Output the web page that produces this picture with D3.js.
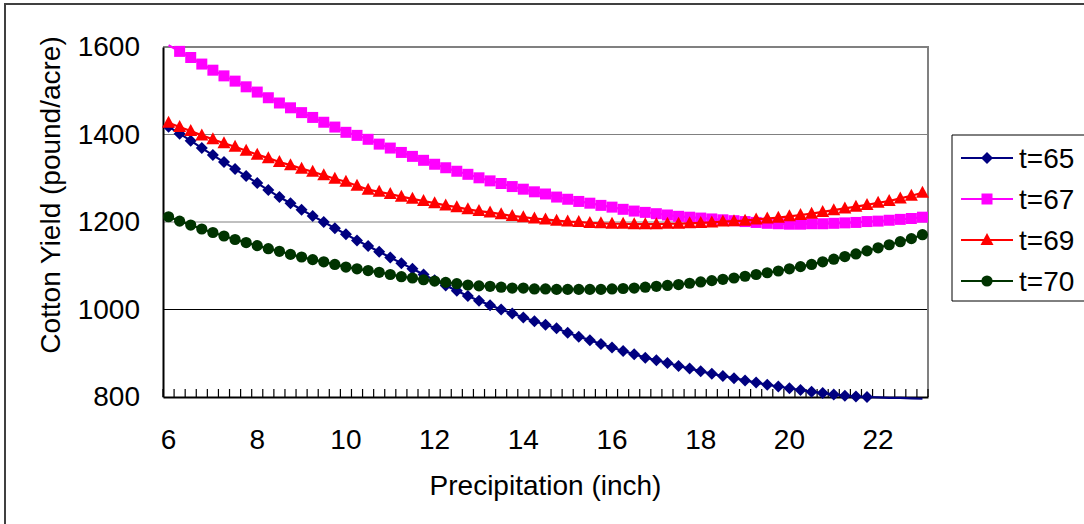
<!DOCTYPE html>
<html>
<head>
<meta charset="utf-8">
<script src="https://cdn.jsdelivr.net/npm/d3@7"></script>
<style>
  body { margin: 0; background: #fff; }
  svg { display: block; font-family: "Liberation Sans", Arial, sans-serif; }
</style>
</head>
<body>
<svg id="chart" width="1084" height="524"></svg>
<script>
// precipitation categories (inch), one every quarter inch
const precipitation = [
  6, 6.25, 6.5, 6.75, 7, 7.25, 7.5, 7.75, 8, 8.25, 8.5, 8.75,
  9, 9.25, 9.5, 9.75, 10, 10.25, 10.5, 10.75, 11, 11.25, 11.5, 11.75,
  12, 12.25, 12.5, 12.75, 13, 13.25, 13.5, 13.75, 14, 14.25, 14.5, 14.75,
  15, 15.25, 15.5, 15.75, 16, 16.25, 16.5, 16.75, 17, 17.25, 17.5, 17.75,
  18, 18.25, 18.5, 18.75, 19, 19.25, 19.5, 19.75, 20, 20.25, 20.5, 20.75,
  21, 21.25, 21.5, 21.75, 22, 22.25, 22.5, 22.75, 23
];
const xTickLabels = [6, 8, 10, 12, 14, 16, 18, 20, 22];
const yTicks = [800, 1000, 1200, 1400, 1600];

// cotton yield (pound/acre)
const t65 = [
  1418, 1402, 1386, 1369, 1353, 1337, 1321, 1305, 1289, 1273, 1257, 1243,
  1228, 1214, 1200, 1186, 1172, 1158, 1145, 1132, 1119, 1106, 1093, 1080,
  1067, 1055, 1043, 1031, 1020, 1010, 1000, 991, 982, 973, 965, 957,
  947, 938, 930, 921, 913, 905, 898, 890, 884, 878, 871, 865,
  859, 853, 848, 843, 838, 833, 828, 824, 820, 816, 812, 809,
  806, 803, 801, 800, 799, 798, 798, 797, 796
];
const t67 = [
  1604, 1590, 1576, 1561, 1547, 1534, 1522, 1509, 1497, 1484, 1472, 1461,
  1450, 1439, 1428, 1417, 1405, 1398, 1389, 1378, 1369, 1359, 1350, 1341,
  1332, 1324, 1316, 1309, 1301, 1294, 1288, 1281, 1275, 1269, 1264, 1257,
  1252, 1247, 1243, 1238, 1234, 1229, 1225, 1222, 1219, 1216, 1213, 1211,
  1209, 1207, 1205, 1203, 1201, 1199, 1197, 1196, 1195, 1195, 1196, 1196,
  1197, 1198, 1199, 1201, 1202, 1204, 1206, 1208, 1211
];
const t69 = [
  1427, 1417, 1408, 1398, 1389, 1380, 1372, 1363, 1354, 1346, 1337, 1330,
  1322, 1315, 1307, 1299, 1292, 1283, 1274, 1269, 1264, 1258, 1253, 1248,
  1243, 1238, 1234, 1229, 1225, 1222, 1218, 1214, 1211, 1208, 1206, 1203,
  1201, 1200, 1198, 1197, 1196, 1196, 1195, 1195, 1195, 1196, 1196, 1197,
  1198, 1199, 1201, 1202, 1203, 1206, 1208, 1210, 1213, 1216, 1219, 1223,
  1227, 1231, 1235, 1239, 1244, 1248, 1254, 1260, 1267
];
const t70 = [
  1212, 1202, 1193, 1184, 1176, 1168, 1160, 1153, 1146, 1139, 1133, 1126,
  1120, 1114, 1109, 1103, 1097, 1093, 1089, 1085, 1080, 1075, 1072, 1068,
  1065, 1062, 1059, 1056, 1054, 1053, 1051, 1049, 1049, 1047, 1047, 1046,
  1046, 1046, 1046, 1046, 1047, 1048, 1049, 1051, 1053, 1055, 1057, 1060,
  1063, 1066, 1069, 1072, 1076, 1080, 1084, 1088, 1093, 1098, 1103, 1109,
  1115, 1121, 1127, 1134, 1141, 1148, 1155, 1162, 1171
];

const seriesNames = ["t=65", "t=67", "t=69", "t=70"];
const seriesValues = [t65, t67, t69, t70];
const seriesColors = ["#000080", "#FF00FF", "#FF0000", "#003300"];
const seriesMarkers = ["diamond", "square", "triangle", "circle"];

const fontFamily = '"Liberation Sans", Arial, sans-serif';
const fontSize = 28;

const svg = d3.select('#chart');
const width = +svg.attr('width');
const height = +svg.attr('height');
const margin = {top: 47, right: 156, bottom: 127, left: 163};
const innerWidth = width - margin.left - margin.right;
const innerHeight = height - margin.top - margin.bottom;

// outer chart frame (runs off the right and bottom edge)
svg.append('path')
  .attr('d', `M${width},4H5V${height}`)
  .attr('fill', 'none')
  .attr('stroke', '#404040')
  .attr('stroke-width', 2);

const g = svg.append('g')
  .attr('transform', `translate(${margin.left},${margin.top})`);

const xScale = d3.scaleBand()
  .domain(precipitation)
  .range([0, innerWidth]);

const yScale = d3.scaleLinear()
  .domain([800, 1600])
  .range([innerHeight, 0]);

// gridlines
g.append('g')
  .selectAll('line')
  .data(yTicks.slice(1, -1))
  .join('line')
    .attr('x1', 0).attr('x2', innerWidth)
    .attr('y1', d => yScale(d)).attr('y2', d => yScale(d))
    .attr('stroke', d => d == 1000 ? '#000' : '#808080')
    .attr('stroke-width', 1);

// plot area top / right border
g.append('path')
  .attr('d', `M0,${yScale(1600)}H${innerWidth}V${yScale(800)}`)
  .attr('fill', 'none')
  .attr('stroke', '#808080')
  .attr('stroke-width', 2);

// y axis
const yAxisG = g.append('g')
  .attr('font-size', fontSize)
  .attr('font-family', fontFamily)
  .call(d3.axisLeft(yScale).tickValues(yTicks).tickFormat(d3.format('d')).tickSize(0).tickPadding(23));
yAxisG.attr('font-size', fontSize).attr('font-family', fontFamily);
yAxisG.select('.domain').attr('stroke', '#000').attr('stroke-width', 2);
yAxisG.selectAll('text').attr('fill', '#000');

// x axis: labels every 2 inches, small tick at every category boundary
const xAxisG = g.append('g')
  .attr('transform', `translate(0,${innerHeight})`)
  .call(d3.axisBottom(xScale).tickValues(xTickLabels).tickSize(0).tickPadding(32));
xAxisG.attr('font-size', fontSize).attr('font-family', fontFamily);
xAxisG.select('.domain').attr('stroke', '#000').attr('stroke-width', 2);
xAxisG.selectAll('text').attr('fill', '#000');

const boundaries = precipitation.map(d => xScale(d)).concat([xScale.range()[1]]);
xAxisG.append('g')
  .selectAll('line')
  .data(boundaries)
  .join('line')
    .attr('x1', d => d).attr('x2', d => d)
    .attr('y1', 0).attr('y2', -8)
    .attr('stroke', '#000')
    .attr('stroke-width', 1.2);

// marker shapes
const markerPath = (type) => {
  if (type == 'diamond') return 'M0,-6L6,0L0,6L-6,0Z';
  if (type == 'square') return 'M-5.5,-5.5H5.5V5.5H-5.5Z';
  if (type == 'triangle') return 'M0,-7L6.5,5H-6.5Z';
  return d3.symbol(d3.symbolCircle, Math.PI * 5.6 * 5.6)();
};

const xCenter = d => xScale(d) + xScale.bandwidth() / 2;
const line = d3.line()
  .x(d => xCenter(d.x))
  .y(d => yScale(d.y));

seriesNames.forEach((name, s) => {
  const pts = precipitation.map((x, i) => ({x, y: seriesValues[s][i]}));
  g.append('path')
    .datum(pts)
    .attr('d', line)
    .attr('fill', 'none')
    .attr('stroke', seriesColors[s])
    .attr('stroke-width', 2.2);
  g.append('g')
    .selectAll('path')
    .data(pts.filter(p => p.y >= 800 && p.y <= 1600))
    .join('path')
      .attr('d', markerPath(seriesMarkers[s]))
      .attr('transform', d => `translate(${xCenter(d.x)},${yScale(d.y)})`)
      .attr('fill', seriesColors[s]);
});

// axis titles
svg.append('text')
  .attr('x', margin.left + innerWidth / 2)
  .attr('y', 495)
  .attr('text-anchor', 'middle')
  .attr('font-size', fontSize)
  .text('Precipitation (inch)');

svg.append('text')
  .attr('transform', `translate(60,195) rotate(-90)`)
  .attr('text-anchor', 'middle')
  .attr('font-size', fontSize)
  .text('Cotton Yield (pound/acre)');

// legend (box runs off the right edge)
const legend = svg.append('g').attr('transform', 'translate(952,135)');
legend.append('path')
  .attr('d', `M${width - 952},0H0V166H${width - 952}`)
  .attr('fill', '#fff')
  .attr('stroke', '#000')
  .attr('stroke-width', 1);

const item = legend.selectAll('g.item')
  .data(seriesNames)
  .join('g')
    .attr('class', 'item')
    .attr('transform', (_, i) => `translate(0,${23 + i * 41})`);
item.append('line')
  .attr('x1', 9).attr('x2', 61)
  .attr('stroke', (_, i) => seriesColors[i])
  .attr('stroke-width', 2.2);
item.append('path')
  .attr('d', (_, i) => markerPath(seriesMarkers[i]))
  .attr('transform', 'translate(35,0)')
  .attr('fill', (_, i) => seriesColors[i]);
item.append('text')
  .attr('x', 67)
  .attr('y', 10)
  .attr('font-size', fontSize)
  .text(d => d);
</script>
</body>
</html>
